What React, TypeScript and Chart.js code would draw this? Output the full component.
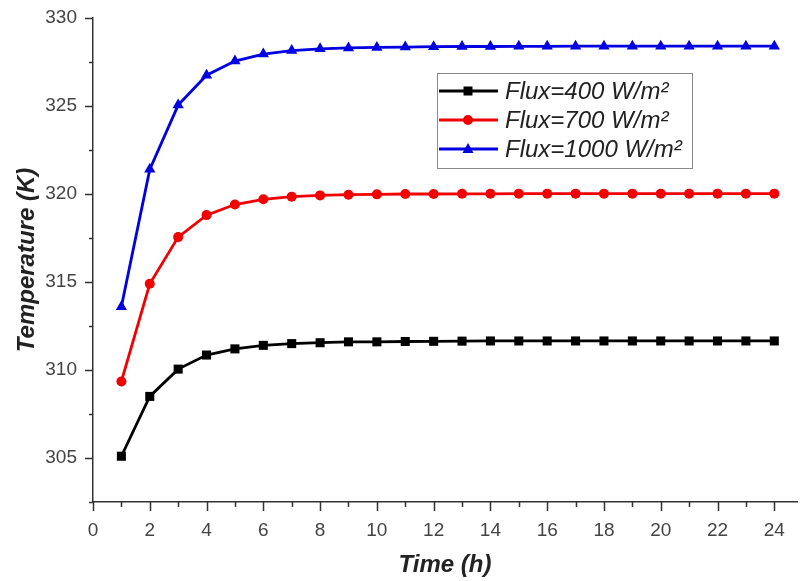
import React, { useEffect, useRef } from 'react';
import { Chart, registerables } from 'chart.js';

Chart.register(...registerables);

// ---- Data ----
const hours = [1, 2, 3, 4, 5, 6, 7, 8, 9, 10, 11, 12, 13, 14, 15, 16, 17, 18, 19, 20, 21, 22, 23, 24];
const flux400 = [305.1, 308.5, 310.05, 310.85, 311.2, 311.4, 311.5, 311.55, 311.6, 311.6, 311.62, 311.63, 311.64, 311.65, 311.65, 311.65, 311.65, 311.65, 311.65, 311.65, 311.65, 311.65, 311.65, 311.65];
const flux700 = [309.35, 314.9, 317.55, 318.8, 319.4, 319.7, 319.85, 319.92, 319.96, 319.98, 320.0, 320.0, 320.01, 320.01, 320.02, 320.02, 320.02, 320.02, 320.02, 320.02, 320.02, 320.02, 320.02, 320.02];
const flux1000 = [313.6, 321.4, 325.05, 326.75, 327.55, 327.95, 328.15, 328.25, 328.3, 328.33, 328.35, 328.37, 328.38, 328.38, 328.39, 328.39, 328.4, 328.4, 328.4, 328.4, 328.4, 328.4, 328.4, 328.4];
const seriesLabels = ['Flux=400 W/m²', 'Flux=700 W/m²', 'Flux=1000 W/m²'];
const seriesColors = ['#000000', '#f00000', '#0000e0'];
const seriesMarkers = ['rect', 'circle', 'triangle'];
const xTitle = 'Time (h)';
const yTitle = 'Temperature (K)';
const xRange = [0, 24.8];
const yRange = [302.5, 330];

const FONT = '"Liberation Sans", Arial, sans-serif';

function drawMarker(ctx: CanvasRenderingContext2D, style: string, x: number, y: number, color: string) {
  ctx.fillStyle = color;
  ctx.beginPath();
  if (style === 'rect') {
    ctx.rect(x - 4.5, y - 4.5, 9, 9);
  } else if (style === 'circle') {
    ctx.arc(x, y, 5, 0, Math.PI * 2);
  } else {
    ctx.moveTo(x, y - 6);
    ctx.lineTo(x + 5.5, y + 4);
    ctx.lineTo(x - 5.5, y + 4);
    ctx.closePath();
  }
  ctx.fill();
}

const tickPlugin = {
  id: 'customTicks',
  afterDraw(chart: any) {
    const { ctx, chartArea } = chart;
    const xs = chart.scales.x;
    const ys = chart.scales.y;
    ctx.save();
    ctx.strokeStyle = '#333';
    ctx.lineWidth = 1.5;
    ctx.beginPath();
    xs.ticks.forEach((t: any) => {
      const px = Math.round(xs.getPixelForValue(t.value)) + 0.5;
      const len = Math.abs(t.value % 2) < 1e-6 ? 9 : 5;
      ctx.moveTo(px, chartArea.bottom);
      ctx.lineTo(px, chartArea.bottom + len);
    });
    ys.ticks.forEach((t: any) => {
      const py = Math.round(ys.getPixelForValue(t.value)) + 0.5;
      const len = Math.abs(t.value % 5) < 1e-6 ? 8 : 4;
      ctx.moveTo(chartArea.left - len, py);
      ctx.lineTo(chartArea.left, py);
    });
    ctx.stroke();
    ctx.restore();
  },
};

const legendPlugin = {
  id: 'boxLegend',
  afterDraw(chart: any) {
    const { ctx, chartArea } = chart;
    const bx = chartArea.left + 344;
    const by = chartArea.top + 55;
    const bw = 255;
    const bh = 95;
    ctx.save();
    ctx.fillStyle = '#ffffff';
    ctx.fillRect(bx, by, bw, bh);
    ctx.strokeStyle = '#888';
    ctx.lineWidth = 1;
    ctx.strokeRect(bx + 0.5, by + 0.5, bw, bh);
    chart.data.datasets.forEach((ds: any, i: number) => {
      const cy = by + 18 + i * 29;
      ctx.strokeStyle = ds.borderColor;
      ctx.lineWidth = 2.8;
      ctx.beginPath();
      ctx.moveTo(bx + 2, cy);
      ctx.lineTo(bx + 61, cy);
      ctx.stroke();
      drawMarker(ctx, ds.pointStyle, bx + 31, cy, ds.borderColor);
      ctx.fillStyle = '#222';
      ctx.font = `italic 24px ${FONT}`;
      ctx.textBaseline = 'middle';
      ctx.textAlign = 'left';
      ctx.fillText(ds.label, bx + 68, cy + 1);
    });
    ctx.restore();
  },
};

export default function App() {
  const canvasRef = useRef<HTMLCanvasElement | null>(null);

  useEffect(() => {
    if (!canvasRef.current) return;
    const series = [flux400, flux700, flux1000];
    const chart = new Chart(canvasRef.current, {
      type: 'line',
      data: {
        datasets: series.map((vals, i) => ({
          label: seriesLabels[i],
          data: hours.map((h, j) => ({ x: h, y: vals[j] })),
          borderColor: seriesColors[i],
          backgroundColor: seriesColors[i],
          borderWidth: 2.8,
          pointStyle: seriesMarkers[i] as any,
          pointRadius: seriesMarkers[i] === 'rect' ? 6.4 : seriesMarkers[i] === 'circle' ? 5 : 6.5,
          pointBorderWidth: 0,
          tension: 0,
          clip: false as any,
        })),
      },
      options: {
        responsive: false,
        animation: false,
        layout: { autoPadding: false, padding: { top: 18, right: 3, left: 0, bottom: 0 } },
        plugins: { legend: { display: false }, tooltip: { enabled: false } },
        scales: {
          x: {
            type: 'linear',
            min: xRange[0],
            max: xRange[1],
            grid: { display: false, drawTicks: false },
            border: { display: true, color: '#333', width: 1.5 },
            ticks: {
              stepSize: 1,
              includeBounds: false,
              autoSkip: false,
              maxRotation: 0,
              padding: 17,
              color: '#444',
              font: { family: FONT, size: 19 },
              callback: (v: any) => (Math.abs(Number(v) % 2) < 1e-6 ? String(v) : ''),
            },
            title: {
              display: true,
              text: xTitle,
              color: '#222',
              font: { family: FONT, size: 24, weight: 'bold', style: 'italic' },
              padding: { top: 0, bottom: 1 },
            },
            afterFit: (s: any) => {
              s.height = 79;
              s.paddingLeft = 0;
              s.paddingRight = 0;
            },
          },
          y: {
            type: 'linear',
            min: yRange[0],
            max: yRange[1],
            grid: { display: false, drawTicks: false },
            border: { display: true, color: '#333', width: 1.5 },
            ticks: {
              stepSize: 2.5,
              autoSkip: false,
              padding: 16,
              color: '#444',
              font: { family: FONT, size: 19 },
              callback: (v: any) => (Math.abs(Number(v) % 5) < 1e-6 ? String(v) : ''),
            },
            title: {
              display: true,
              text: yTitle,
              color: '#222',
              font: { family: FONT, size: 24, weight: 'bold', style: 'italic' },
              padding: { top: 13, bottom: 0 },
            },
            afterFit: (s: any) => {
              s.width = 93;
              s.paddingTop = 0;
              s.paddingBottom = 0;
            },
          },
        },
      },
      plugins: [tickPlugin, legendPlugin],
    });
    return () => chart.destroy();
  }, []);

  return (
    <div style={{ position: 'absolute', left: 0, top: 0, width: 800, height: 581, background: '#fff' }}>
      <canvas ref={canvasRef} width={800} height={581} style={{ display: 'block' }} />
    </div>
  );
}
